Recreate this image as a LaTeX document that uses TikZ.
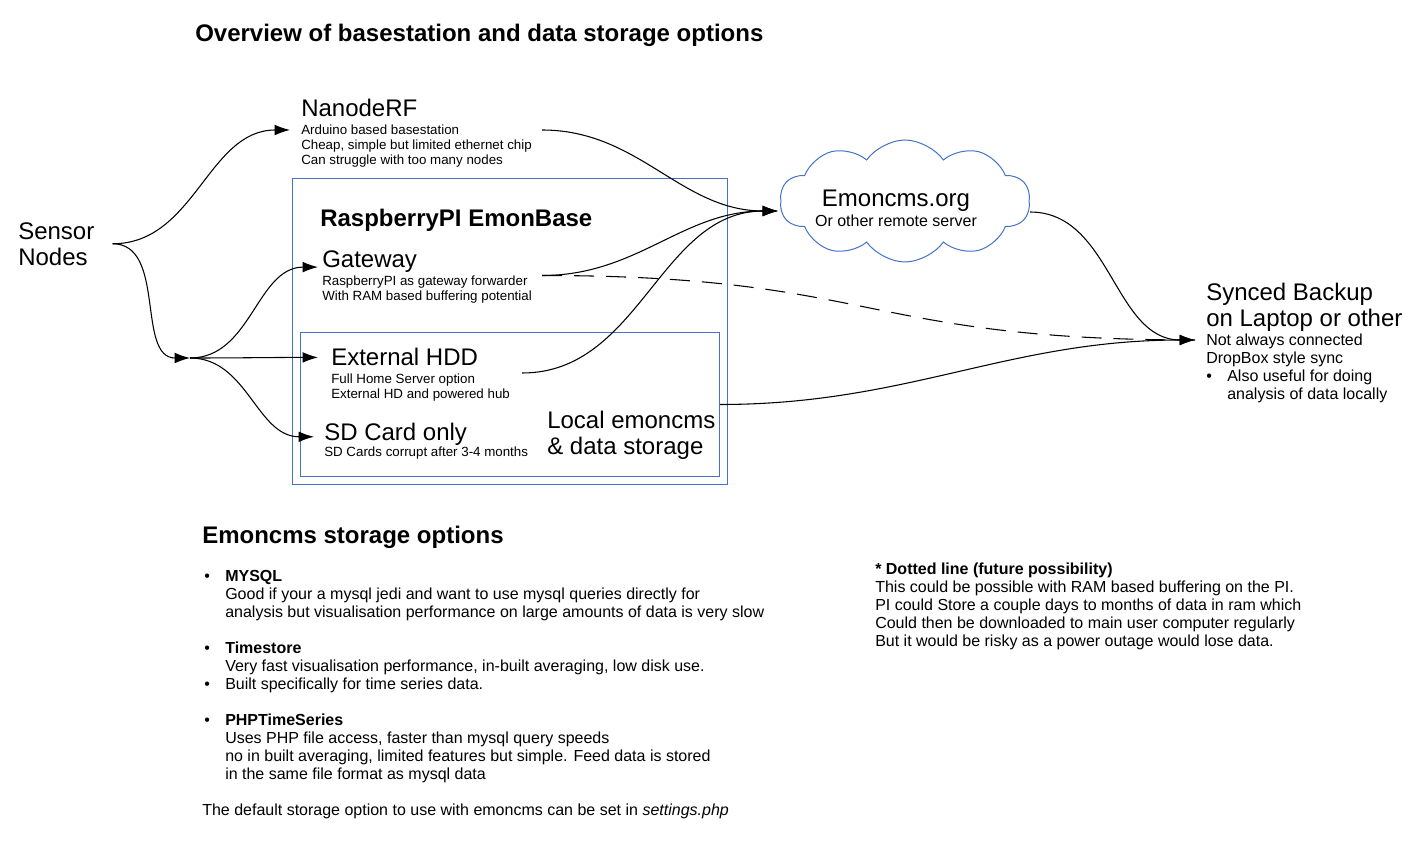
\documentclass[tikz,border=0pt]{standalone}
\usepackage{fontspec}
\setmainfont{Liberation Sans}
\usetikzlibrary{shapes,arrows.meta,calc}
\definecolor{boxblue}{RGB}{68,114,196}
\newcommand{\largefnt}{\fontsize{18pt}{19.5pt}\selectfont}
\newcommand{\medfnt}{\fontsize{12pt}{13.5pt}\selectfont}
\newcommand{\smallfnt}{\fontsize{10pt}{11.25pt}\selectfont}
\tikzstyle{heading} = [font=\largefnt, inner sep=0pt, anchor=base west]
\tikzstyle{bighead} = [font=\largefnt\bfseries, inner sep=0pt, anchor=base west]
\tikzstyle{detail} = [font=\smallfnt, inner sep=0pt, align=left, anchor=north west]
\tikzstyle{note} = [font=\medfnt, inner sep=0pt, align=left, anchor=north west]
\tikzstyle{blockframe} = [draw=boxblue, line width=0.75pt, inner sep=0pt, anchor=north west]
\tikzstyle{link} = [->, line width=0.8pt]

\begin{document}
\begin{tikzpicture}[x=0.75pt, y=-0.75pt, >={Latex[length=11.5pt,width=8pt]}]
    \useasboundingbox (0,0) rectangle (1427,841);
    % We start with the headings
    \node [bighead] (title) at (195,41.5) {Overview of basestation and data storage options};
    \node [heading, anchor=north west, align=left] (sensor) at (18,222) {Sensor\\Nodes};

    % NanodeRF on its own
    \node [heading] (nanode) at (301,117) {NanodeRF};
    \node [detail] (nanodesub) at (301,125) {Arduino based basestation\\Cheap, simple but limited ethernet chip\\Can struggle with too many nodes};

    % The two boxes of the basestation
    \node [blockframe, minimum width=326.25pt, minimum height=229.5pt] (emonbase) at (292,178) {};
    \node [blockframe, minimum width=314.25pt, minimum height=108pt] (localbox) at (300,332) {};
    \node [bighead] (basetitle) at (320,227) {RaspberryPI EmonBase};
    \node [heading] (gateway) at (322,268) {Gateway};
    \node [detail] (gatewaysub) at (322,275.5) {RaspberryPI as gateway forwarder\\With RAM based buffering potential};
    \node [heading] (hdd) at (331,366) {External HDD};
    \node [detail] (hddsub) at (331,374) {Full Home Server option\\External HD and powered hub};
    \node [heading] (sdcard) at (324,440) {SD Card only};
    \node [detail] (sdsub) at (324,447) {SD Cards corrupt after 3-4 months};
    \node [heading, anchor=north west, align=left] (localtext) at (547,410.5) {Local emoncms\\\& data storage};

    % Remote server in a cloud
    \node [cloud, draw=boxblue, line width=0.75pt, cloud puffs=10, cloud puff arc=110, aspect=2,
            minimum width=187.5pt, minimum height=91.5pt] (emoncms) at (905,201) {};
    \node [font=\largefnt, inner sep=0pt, anchor=base] (emontitle) at (896,207) {Emoncms.org};
    \node [font=\medfnt, inner sep=0pt, anchor=base] (emonsub) at (896,226.7) {Or other remote server};

    % Synced backup on the right
    \node [heading, anchor=north west, align=left] (synced) at (1206,283) {Synced Backup\\on Laptop or other};
    \node [note] (syncedsub) at (1206,333) {\begin{tabular}{@{}p{15.75pt}@{}l@{}}
        \multicolumn{2}{@{}l@{}}{Not always connected}\\
        \multicolumn{2}{@{}l@{}}{DropBox style sync}\\
        \textbullet & Also useful for doing\\
        & analysis of data locally
        \end{tabular}};

    % Storage options below
    \node [bighead] (storetitle) at (202,543.5) {Emoncms storage options};
    \node [note] (storelist) at (204,569) {\begin{tabular}{@{}p{15.75pt}@{}l@{}}
        \textbullet & \textbf{MYSQL}\\
        & Good if your a mysql jedi and want to use mysql queries directly for\\
        & analysis but visualisation performance on large amounts of data is very slow\\
        & \\
        \textbullet & \textbf{Timestore}\\
        & Very fast visualisation performance, in-built averaging, low disk use.\\
        \textbullet & Built specifically for time series data.\\
        & \\
        \textbullet & \textbf{PHPTimeSeries}\\
        & Uses PHP file access, faster than mysql query speeds\\
        & no in built averaging, limited features but simple. Feed data is stored\\
        & in the same file format as mysql data\\
        & \\
        \multicolumn{2}{@{}l@{}}{\hspace{-1.5pt}The default storage option to use with emoncms can be set in \textit{settings.php}}
        \end{tabular}};
    \node [note] (future) at (875,563) {\textbf{* Dotted line (future possibility)}\\This could be possible with RAM based buffering on the PI.\\PI could Store a couple days to months of data in ram which\\Could then be downloaded to main user computer regularly\\But it would be risky as a power outage would lose data.};

    % Once the nodes are placed, the connectors follow
    \coordinate (hub) at (190,358);
    \coordinate (cloudin) at ($(emoncms.center)+(-127,10)$);
    \coordinate (syncin) at ($(syncedsub.north west)+(-11,7)$);
    \draw [link] ($(sensor.east)+(18,0)$) to[out=0,in=180] ($(nanodesub.north west)+(-11,5)$);
    \draw [link] ($(sensor.east)+(18,0)$) to[out=0,in=180] (hub);
    \draw [link] (hub) to[out=0,in=180] ($(gateway.west)+(-4,5)$);
    \draw [link] (hub) to[out=0,in=180] ($(hdd.west)+(-13,0)$);
    \draw [link] (hub) to[out=0,in=180] ($(sdcard.west)+(-10,3)$);
    \draw [link] ($(nanodesub.north east)+(10,5)$) to[out=0,in=180] (cloudin);
    \draw [link] ($(gatewaysub.north east)+(10,0)$) to[out=0,in=180] (cloudin);
    \draw [link] ($(hddsub.north east)+(12,-1)$) to[out=0,in=180] (cloudin);
    % dashed: future possibility
    \draw [line width=0.8pt, dash pattern=on 15pt off 9pt] ($(gatewaysub.north east)+(10,0)$)
        to[out=0,in=180,looseness=1.3] (syncin);
    \draw [link] ($(emoncms.center)+(125,11)$) to[out=0,in=180] (syncin);
    \draw [link] (localbox.east) to[out=0,in=180] (syncin);
\end{tikzpicture}
\end{document}
